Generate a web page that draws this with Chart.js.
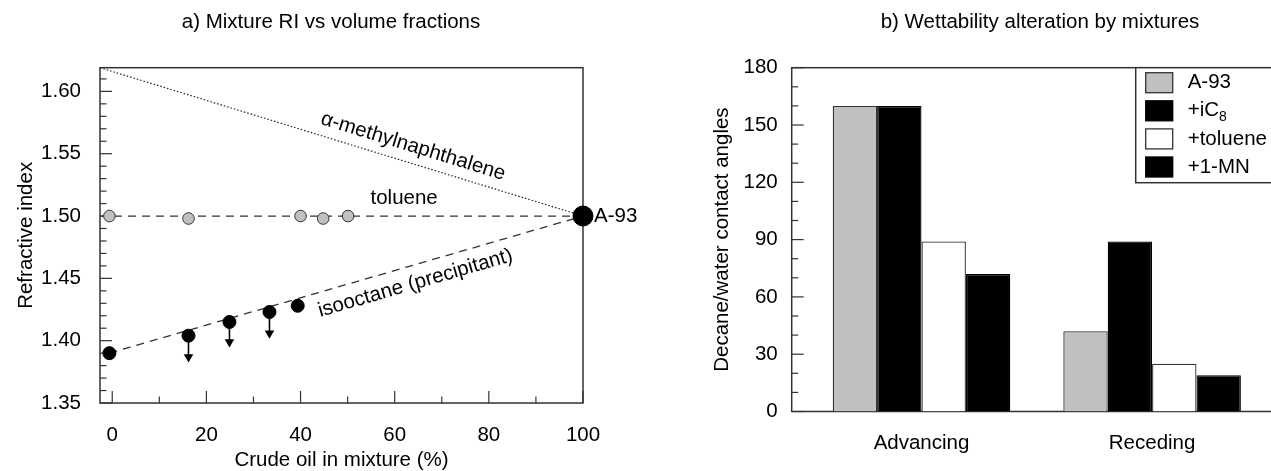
<!DOCTYPE html>
<html>
<head>
<meta charset="utf-8">
<script src="https://cdn.jsdelivr.net/npm/chart.js@4.4.1/dist/chart.umd.min.js"></script>
<style>
  body { margin: 0; background: #fff; }
  #wrap { position: relative; width: 1271px; height: 471px; overflow: hidden; }
  #riChart { position: absolute; left: 0; top: 0; }
  #angleChart { position: absolute; left: 662px; top: 0; }
</style>
</head>
<body>
<div id="wrap">
  <canvas id="riChart" width="662" height="471"></canvas>
  <canvas id="angleChart" width="638" height="471"></canvas>
</div>
<script>
// a) mixture RI vs volume fractions
var toluenePct = [-0.6, 16.2, 40.0, 44.8, 50.1];
var tolueneRI = [1.500, 1.498, 1.500, 1.498, 1.500];
var isooctanePct = [-0.6, 16.2, 24.9, 33.4, 39.4];
var isooctaneRI = [1.390, 1.404, 1.415, 1.423, 1.428];
var arrowFrom = [1, 2, 3];
var arrowTipRI = [1.387, 1.399, 1.406];
var crudePct = [100];
var crudeRI = [1.50];
var mnLinePct = [-2.6, 100];
var mnLineRI = [1.619, 1.50];
var tolLinePct = [-2.6, 100];
var tolLineRI = [1.50, 1.50];
var isoLinePct = [-0.6, 100];
var isoLineRI = [1.390, 1.50];
var pctTicks = [0, 20, 40, 60, 80, 100];
var riTicks = [1.35, 1.40, 1.45, 1.50, 1.55, 1.60];

// b) wettability alteration
var angleTypes = ['Advancing', 'Receding'];
var mixNames = ['A-93', '+iC8', '+toluene', '+1-MN'];
var mixColors = ['#c0c0c0', '#000000', '#ffffff', '#000000'];
var a93Angles = [160, 42];
var ic8Angles = [160, 89];
var tolueneAngles = [89, 25];
var mnAngles = [72, 19];
var angleTicks = [0, 30, 60, 90, 120, 150, 180];

var FONT = '"Liberation Sans", Arial, Helvetica, sans-serif';
var FSIZE = 20.5;
Chart.defaults.font.family = FONT;
Chart.defaults.font.size = FSIZE;
Chart.defaults.color = '#000';

function pts(xs, ys) {
  return xs.map(function (x, i) { return {x: x, y: ys[i]}; });
}

function tickMark(ctx, s, a, v, len) {
  var p = s.getPixelForValue(v);
  ctx.beginPath();
  if (s.isHorizontal()) { ctx.moveTo(p, a.bottom); ctx.lineTo(p, a.bottom - len); }
  else { ctx.moveTo(a.left, p); ctx.lineTo(a.left + len, p); }
  ctx.stroke();
}

// box frame + inward major/minor ticks
var frameTicks = {
  id: 'frameTicks',
  beforeDatasetsDraw: function (chart, args, o) {
    var ctx = chart.ctx, a = chart.chartArea;
    ctx.save();
    ctx.strokeStyle = '#333';
    ctx.lineWidth = 1.5;
    ctx.strokeRect(a.left, a.top, a.right - a.left, a.bottom - a.top);
    ctx.lineWidth = 1.2;
    ['x', 'y'].forEach(function (id) {
      var t = o[id];
      if (!t) return;
      var s = chart.scales[id];
      var majors = s.ticks.map(function (tk) { return tk.value; });
      majors.forEach(function (v) { tickMark(ctx, s, a, v, 12); });
      var k0 = Math.ceil(s.min / t.step - 1e-6), k1 = Math.floor(s.max / t.step + 1e-6);
      for (var k = k0; k <= k1; k++) {
        var v = k * t.step;
        var isMajor = majors.some(function (m) { return Math.abs(m - v) < t.step / 10; });
        if (!isMajor) tickMark(ctx, s, a, v, 6.5);
      }
    });
    ctx.restore();
  }
};

var panelTitle = {
  id: 'panelTitle',
  afterDraw: function (chart, args, o) {
    var ctx = chart.ctx;
    ctx.save();
    ctx.font = FSIZE + 'px ' + FONT;
    ctx.fillStyle = '#000';
    ctx.textAlign = 'center';
    ctx.textBaseline = 'middle';
    ctx.fillText(o.text, o.center, 22);
    ctx.restore();
  }
};

// text labels placed at data coordinates
var notes = {
  id: 'notes',
  afterDraw: function (chart, args, o) {
    var ctx = chart.ctx;
    (o.items || []).forEach(function (n) {
      ctx.save();
      ctx.translate(chart.scales.x.getPixelForValue(n.x) + (n.dx || 0), chart.scales.y.getPixelForValue(n.y));
      ctx.rotate(n.angle * Math.PI / 180);
      ctx.font = FSIZE + 'px ' + FONT;
      ctx.fillStyle = '#000';
      ctx.textAlign = n.align || 'center';
      ctx.textBaseline = 'middle';
      ctx.fillText(n.text, 0, 0);
      ctx.restore();
    });
  }
};

function drawLabel(ctx, label, x, y) {
  var m = label.match(/^(.*[A-Z])(\d+)$/);
  ctx.font = FSIZE + 'px ' + FONT;
  ctx.textBaseline = 'middle';
  ctx.textAlign = 'left';
  if (!m) { ctx.fillText(label, x, y); return; }
  ctx.fillText(m[1], x, y);
  var w = ctx.measureText(m[1]).width;
  ctx.font = '14px ' + FONT;
  ctx.fillText(m[2], x + w, y + 6);
}

// legend in a framed box inside the plot
var boxLegend = {
  id: 'boxLegend',
  afterDraw: function (chart, args, o) {
    var ctx = chart.ctx, a = chart.chartArea;
    var x0 = a.left + o.offsetX, y0 = a.top;
    ctx.save();
    ctx.fillStyle = '#fff';
    ctx.fillRect(x0, y0, o.width, o.height);
    ctx.strokeStyle = '#333';
    ctx.lineWidth = 1.5;
    ctx.strokeRect(x0, y0, o.width, o.height);
    chart.data.datasets.forEach(function (ds, i) {
      var cy = y0 + o.first + i * o.rowGap;
      ctx.fillStyle = ds.backgroundColor;
      ctx.fillRect(x0 + 10, cy - 10, 27, 20);
      ctx.strokeStyle = ds.borderColor;
      ctx.lineWidth = 1.3;
      ctx.strokeRect(x0 + 10, cy - 10, 27, 20);
      ctx.fillStyle = '#000';
      drawLabel(ctx, ds.label, x0 + 52, cy);
    });
    ctx.restore();
  }
};

function createRIChart() {
  var datasets = [
    {data: pts(crudePct, crudeRI), pointRadius: 10, pointBackgroundColor: '#000', pointBorderColor: '#000', clip: false},
    {data: pts(isooctanePct, isooctaneRI), pointRadius: 6.5, pointBackgroundColor: '#000', pointBorderColor: '#000'},
    {data: pts(toluenePct, tolueneRI), pointRadius: 5.8, pointBorderWidth: 1, pointBackgroundColor: '#c0c0c0', pointBorderColor: '#333'}
  ];
  arrowFrom.forEach(function (idx, i) {
    datasets.push({
      data: [{x: isooctanePct[idx], y: isooctaneRI[idx]}, {x: isooctanePct[idx], y: arrowTipRI[i]}],
      showLine: true, borderColor: '#000', borderWidth: 1.6,
      pointRadius: [0, 5.5], pointStyle: 'triangle', pointRotation: 180,
      pointBackgroundColor: '#000', pointBorderColor: '#000', pointBorderWidth: 0
    });
  });
  datasets.push(
    {data: pts(mnLinePct, mnLineRI), showLine: true, borderColor: '#222', borderWidth: 1.2, borderDash: [1.5, 2], pointRadius: 0},
    {data: pts(tolLinePct, tolLineRI), showLine: true, borderColor: '#333', borderWidth: 1.3, borderDash: [8, 6], pointRadius: 0},
    {data: pts(isoLinePct, isoLineRI), showLine: true, borderColor: '#333', borderWidth: 1.3, borderDash: [8, 6], pointRadius: 0}
  );

  new Chart('riChart', {
    type: 'scatter',
    data: {datasets: datasets},
    plugins: [frameTicks, panelTitle, notes],
    options: {
      responsive: false,
      animation: false,
      events: [],
      layout: {padding: {top: 67.7, right: 79, bottom: 0, left: 0}},
      scales: {
        x: {
          type: 'linear', min: -2.6, max: 100,
          afterBuildTicks: function (s) { s.ticks = pctTicks.map(function (v) { return {value: v}; }); },
          afterFit: function (s) { s.height = 68; },
          grid: {display: false}, border: {display: false},
          ticks: {padding: 12, maxRotation: 0, autoSkip: false},
          title: {display: true, text: 'Crude oil in mixture (%)', padding: {top: 0, bottom: -2}}
        },
        y: {
          type: 'linear', min: 1.35, max: 1.619,
          afterBuildTicks: function (s) { s.ticks = riTicks.map(function (v) { return {value: v}; }); },
          afterFit: function (s) { s.width = 100; },
          grid: {display: false}, border: {display: false},
          ticks: {padding: 11, callback: function (v) { return v.toFixed(2); }},
          title: {display: true, text: 'Refractive index', padding: {top: 14, bottom: 0}}
        }
      },
      plugins: {
        legend: {display: false},
        tooltip: {enabled: false},
        frameTicks: {x: {step: 10}, y: {step: 0.01}},
        panelTitle: {text: 'a) Mixture RI vs volume fractions', center: 331},
        notes: {items: [
          {text: 'A-93', x: 100, y: 1.50, dx: 11, angle: 0, align: 'left'},
          {text: 'toluene', x: 62.0, y: 1.5143, angle: 0},
          {text: '\u03b1-methylnaphthalene', x: 63.9, y: 1.5558, angle: 17.1},
          {text: 'isooctane (precipitant)', x: 64.4, y: 1.446, angle: -16.2}
        ]}
      }
    }
  });
}

function createAngleChart() {
  var series = [a93Angles, ic8Angles, tolueneAngles, mnAngles];
  new Chart('angleChart', {
    type: 'bar',
    data: {
      datasets: series.map(function (vals, i) {
        return {
          label: mixNames[i],
          data: angleTypes.map(function (c, j) { return {x: j, y: vals[j]}; }),
          backgroundColor: mixColors[i],
          borderColor: mixColors[i] === '#000000' ? '#000' : '#333',
          borderWidth: 1.3,
          categoryPercentage: 0.77,
          barPercentage: 1.0
        };
      })
    },
    plugins: [frameTicks, panelTitle, boxLegend],
    options: {
      responsive: false,
      animation: false,
      events: [],
      layout: {padding: {top: 67.7, right: 0, bottom: 0, left: 0}},
      scales: {
        x: {
          type: 'linear', min: -0.5629, max: 1.6414, offset: false,
          afterBuildTicks: function (s) { s.ticks = angleTypes.map(function (c, j) { return {value: j}; }); },
          afterFit: function (s) { s.height = 59.5; },
          grid: {display: false}, border: {display: false},
          ticks: {padding: 11.5, maxRotation: 0, autoSkip: false, callback: function (v) { return angleTypes[v]; }}
        },
        y: {
          min: 0, max: 180,
          afterBuildTicks: function (s) { s.ticks = angleTicks.map(function (v) { return {value: v}; }); },
          afterFit: function (s) { s.width = 129.7; },
          grid: {display: false}, border: {display: false},
          ticks: {padding: 6},
          title: {display: true, text: 'Decane/water contact angles', padding: {top: 48, bottom: 0}}
        }
      },
      plugins: {
        legend: {display: false},
        tooltip: {enabled: false},
        frameTicks: {y: {step: 10}},
        panelTitle: {text: 'b) Wettability alteration by mixtures', center: 378},
        boxLegend: {offsetX: 344, width: 170, height: 115, first: 15, rowGap: 28.1}
      }
    }
  });
}

createRIChart();
createAngleChart();
</script>
</body>
</html>
